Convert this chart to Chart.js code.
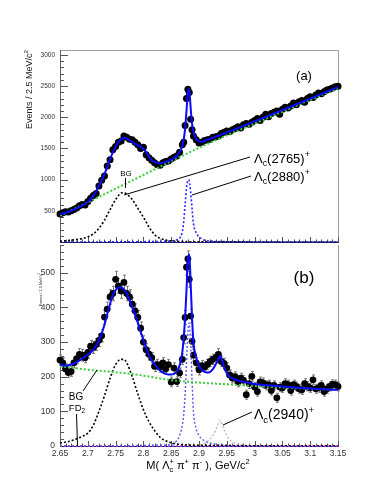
<!DOCTYPE html>
<html>
<head>
<meta charset="utf-8">
<script src="https://cdn.jsdelivr.net/npm/chart.js@4.4.1/dist/chart.umd.min.js"></script>
<style>
html, body { margin: 0; padding: 0; background: #fff; }
#wrap { position: relative; width: 383px; height: 495px; }
#chartA { position: absolute; left: 0; top: 0; }
#chartB { position: absolute; left: 0; top: 240px; }
</style>
</head>
<body>
<div id="wrap">
<canvas id="chartA" width="383" height="246"></canvas>
<canvas id="chartB" width="383" height="255"></canvas>
</div>
<script>
// axis ticks
var xTicks = [2.65, 2.7, 2.75, 2.8, 2.85, 2.9, 2.95, 3, 3.05, 3.1, 3.15];
var yTicksA = [500, 1000, 1500, 2000, 2500, 3000];
var yTicksB = [0, 100, 200, 300, 400, 500];

// bin centres (GeV/c2), same for both panels
var mass = [2.65, 2.655, 2.66, 2.665, 2.67, 2.675, 2.68, 2.685, 2.69, 2.695,
    2.7, 2.705, 2.71, 2.715, 2.72, 2.725, 2.73, 2.735, 2.74, 2.745,
    2.75, 2.755, 2.76, 2.765, 2.77, 2.775, 2.78, 2.785, 2.79, 2.795,
    2.8, 2.805, 2.81, 2.815, 2.82, 2.825, 2.83, 2.835, 2.84, 2.845,
    2.85, 2.855, 2.86, 2.865, 2.87,
    2.8725, 2.875, 2.8775, 2.88, 2.8825, 2.885, 2.8875,
    2.89, 2.895, 2.9, 2.905, 2.91, 2.915, 2.92, 2.925, 2.93, 2.935, 2.94, 2.945,
    2.95, 2.955, 2.96, 2.965, 2.97, 2.975, 2.98, 2.985, 2.99, 2.995,
    3, 3.005, 3.01, 3.015, 3.02, 3.025, 3.03, 3.035, 3.04, 3.045,
    3.05, 3.055, 3.06, 3.065, 3.07, 3.075, 3.08, 3.085, 3.09, 3.095,
    3.1, 3.105, 3.11, 3.115, 3.12, 3.125, 3.13, 3.135, 3.14, 3.145, 3.15];

// panel (a) events
var eventsA = [450, 470, 485, 480, 500, 520, 545, 580, 600, 595,
    650, 700, 745, 780, 900, 990, 1060, 1220, 1320, 1480,
    1530, 1600, 1620, 1700, 1680, 1650, 1640, 1600, 1560, 1500,
    1520, 1400, 1350, 1310, 1270, 1240, 1230, 1270, 1290, 1300,
    1330, 1360, 1380, 1440, 1560,
    1600, 1870, 2300, 2450, 2400, 1970, 1800,
    1700, 1640, 1590, 1600, 1630, 1640, 1650, 1680, 1690, 1700, 1740, 1760,
    1780, 1770, 1800, 1820, 1850, 1830, 1880, 1900, 1890, 1920,
    1950, 1980, 1950, 2000, 2050, 2010, 2060, 2080, 2100, 2050,
    2130, 2160, 2150, 2180, 2230, 2200, 2250, 2270, 2240, 2300,
    2330, 2320, 2360, 2390, 2380, 2410, 2440, 2450, 2470, 2490, 2500];

// panel (b) events and errors
var eventsB = [248, 240, 222, 212, 215, 240, 252, 264, 262, 255,
    270, 288, 284, 293, 305, 318, 372, 395, 430, 440,
    481, 462, 447, 472, 440, 430, 409, 390, 371, 340,
    300, 278, 265, 255, 230, 235, 228, 240, 222, 235,
    185, 225, 186, 211, 250,
    313, 371, 516, 540, 481, 375, 302,
    262, 240, 220, 232, 228, 235, 244, 250, 255, 264, 244, 238,
    225, 205, 196, 200, 185, 196, 190, 148, 180, 201,
    170, 157, 185, 182, 175, 177, 160, 175, 139, 170,
    168, 180, 177, 160, 177, 172, 165, 162, 180, 172,
    168, 191, 165, 168, 175, 157, 165, 172, 178, 177, 172];
var errB = [15, 15, 15, 14, 14, 15, 15, 17, 17, 15,
    17, 17, 17, 17, 18, 18, 20, 20, 21, 21,
    23, 21, 21, 21, 21, 21, 20, 20, 20, 18,
    18, 17, 17, 15, 15, 15, 15, 15, 15, 15,
    14, 15, 14, 14, 15,
    18, 20, 23, 23, 23, 20, 18,
    17, 15, 15, 15, 15, 15, 15, 15, 15, 17, 15, 15,
    15, 14, 14, 14, 14, 14, 14, 13, 14, 14,
    13, 13, 14, 14, 13, 13, 13, 13, 13, 13,
    13, 14, 13, 13, 13, 13, 13, 13, 14, 13,
    13, 14, 13, 13, 13, 13, 13, 13, 13, 13, 13];

// panel (a) fit curves
var fitAMass = [2.65, 2.66, 2.67, 2.68, 2.69, 2.7, 2.71, 2.72, 2.73, 2.74, 2.75, 2.76, 2.767, 2.775, 2.785, 2.795, 2.8, 2.805, 2.81, 2.815, 2.82, 2.83, 2.84, 2.85, 2.86, 2.865, 2.87, 2.8725, 2.875, 2.8775, 2.88, 2.8815, 2.883, 2.885, 2.8875, 2.89, 2.895, 2.9, 2.905, 2.91, 2.95, 3, 3.05, 3.1, 3.15];
var fitAVal = [445, 470, 500, 540, 585, 640, 740, 900, 1090, 1330, 1530, 1650, 1670, 1630, 1575, 1530, 1495, 1440, 1370, 1310, 1282, 1265, 1282, 1320, 1380, 1440, 1540, 1640, 1820, 2100, 2400, 2450, 2400, 2150, 1900, 1760, 1650, 1615, 1610, 1625, 1755, 1935, 2115, 2300, 2485];
var bgAMass = [2.65, 2.7, 2.75, 2.8, 2.85, 2.9, 2.95, 3, 3.05, 3.1, 3.15];
var bgAVal = [420, 635, 855, 1075, 1295, 1510, 1710, 1900, 2090, 2280, 2465];
var lc2765AMass = [2.65, 2.66, 2.67, 2.68, 2.69, 2.7, 2.71, 2.72, 2.73, 2.74, 2.75, 2.76, 2.765, 2.77, 2.78, 2.79, 2.8, 2.81, 2.82, 2.83, 2.84, 2.85, 2.86, 2.9, 3, 3.15];
var lc2765AVal = [15, 20, 28, 40, 55, 80, 130, 220, 350, 520, 680, 785, 790, 770, 680, 540, 400, 240, 120, 60, 30, 18, 10, 4, 1, 0];
var lc2880AMass = [2.65, 2.84, 2.85, 2.86, 2.865, 2.869, 2.872, 2.875, 2.878, 2.8815, 2.885, 2.888, 2.89, 2.896, 2.905, 2.92, 2.95, 3.15];
var lc2880AVal = [0, 10, 18, 35, 60, 130, 280, 600, 900, 1000, 800, 480, 300, 130, 50, 15, 5, 0];

// panel (b) fit curves
var fitBMass = [2.65, 2.655, 2.66, 2.665, 2.67, 2.675, 2.68, 2.685, 2.69, 2.695, 2.7, 2.705, 2.71, 2.715, 2.72, 2.725, 2.73, 2.735, 2.74, 2.745, 2.75, 2.755, 2.76, 2.765, 2.77, 2.775, 2.78, 2.785, 2.79, 2.795, 2.8, 2.805, 2.81, 2.815, 2.82, 2.825, 2.83, 2.835, 2.84, 2.845, 2.85, 2.855, 2.86, 2.865, 2.87, 2.875, 2.8775, 2.88, 2.8825, 2.885, 2.8875, 2.89, 2.895, 2.9, 2.905, 2.91, 2.915, 2.92, 2.925, 2.93, 2.935, 2.938, 2.94, 2.945, 2.95, 2.955, 2.96, 2.97, 2.98, 2.99, 3, 3.05, 3.1, 3.15];
var fitBVal = [235, 233, 232, 233, 235, 238, 242, 247, 252, 258, 264, 270, 278, 290, 305, 325, 350, 380, 410, 435, 450, 457, 458, 452, 440, 420, 400, 378, 355, 330, 305, 282, 262, 247, 236, 226, 218, 212, 208, 206, 206, 208, 215, 232, 270, 370, 450, 535, 553, 470, 370, 300, 255, 232, 220, 214, 212, 214, 222, 235, 252, 260, 255, 228, 210, 200, 195, 189, 185, 182, 179, 172, 166, 162];
var bgBMass = [2.65, 2.7, 2.75, 2.8, 2.85, 2.9, 2.95, 3, 3.05, 3.1, 3.15];
var bgBVal = [230, 220, 213, 203, 190, 183, 178, 173, 169, 165, 162];
var lc2765BMass = [2.65, 2.67, 2.69, 2.7, 2.71, 2.72, 2.73, 2.74, 2.75, 2.76, 2.765, 2.77, 2.78, 2.79, 2.8, 2.81, 2.82, 2.83, 2.84, 2.86, 2.9, 3.15];
var lc2765BVal = [8, 15, 28, 37, 60, 100, 145, 195, 235, 250, 250, 240, 200, 150, 105, 70, 45, 25, 15, 6, 2, 0];
var lc2880BMass = [2.65, 2.84, 2.85, 2.86, 2.865, 2.87, 2.873, 2.876, 2.879, 2.882, 2.885, 2.888, 2.89, 2.895, 2.9, 2.91, 2.93, 2.95, 3.15];
var lc2880BVal = [0, 3, 5, 15, 30, 60, 100, 180, 300, 355, 290, 170, 100, 50, 30, 15, 5, 2, 0];
var lc2940BMass = [2.88, 2.9, 2.91, 2.92, 2.93, 2.935, 2.938, 2.941, 2.947, 2.955, 2.965, 2.98, 3];
var lc2940BVal = [0, 3, 8, 20, 45, 65, 75, 65, 40, 18, 8, 3, 0];
var fd2BMass = [2.65, 3.15];
var fd2BVal = [0, 0];

function pairs(xs, ys) {
    return xs.map(function(x, i) { return { x: x, y: ys[i] }; });
}

var FONT = '"Liberation Sans", Arial, Helvetica, sans-serif';

// text with sub/superscripts; parts: [text, 'n'|'sub'|'sup'] or [sub, 'ss', sup]
function drawRich(ctx, parts, x, y, size, align) {
    var small = size * 0.68;
    var widths = [], total = 0;
    parts.forEach(function(p) {
        var w;
        if (p[1] === 'n') {
            ctx.font = size + 'px ' + FONT;
            w = ctx.measureText(p[0]).width;
        } else if (p[1] === 'ss') {
            ctx.font = small + 'px ' + FONT;
            w = Math.max(ctx.measureText(p[0]).width, ctx.measureText(p[2]).width);
        } else {
            ctx.font = small + 'px ' + FONT;
            w = ctx.measureText(p[0]).width;
        }
        widths.push(w);
        total += w;
    });
    var cx = x;
    if (align === 'center') cx = x - total / 2;
    if (align === 'right') cx = x - total;
    ctx.textAlign = 'left';
    ctx.textBaseline = 'alphabetic';
    parts.forEach(function(p, i) {
        if (p[1] === 'n') {
            ctx.font = size + 'px ' + FONT;
            ctx.fillText(p[0], cx, y);
        } else {
            ctx.font = small + 'px ' + FONT;
            if (p[1] === 'sub' || p[1] === 'ss') ctx.fillText(p[0], cx, y + size * 0.25);
            if (p[1] === 'sup') ctx.fillText(p[0], cx, y - size * 0.45);
            if (p[1] === 'ss') ctx.fillText(p[2], cx, y - size * 0.45);
        }
        cx += widths[i];
    });
}

function line(ctx, x1, y1, x2, y2) {
    ctx.beginPath();
    ctx.moveTo(x1, y1);
    ctx.lineTo(x2, y2);
    ctx.stroke();
}

// ROOT-like frame with inward ticks
function rootAxes(yMajor, yMinor, drawTop) {
    return {
        id: 'rootAxes',
        beforeDatasetsDraw: function(chart) {
            var ctx = chart.ctx, a = chart.chartArea;
            var xs = chart.scales.x, ys = chart.scales.y;
            ctx.save();
            ctx.lineWidth = 1;
            ctx.strokeStyle = '#a0a0a0';
            ctx.beginPath();
            if (drawTop) {
                ctx.moveTo(a.left, a.top + 0.5);
                ctx.lineTo(a.right + 0.5, a.top + 0.5);
            } else {
                ctx.moveTo(a.right + 0.5, a.top);
            }
            ctx.lineTo(a.right + 0.5, a.bottom);
            ctx.stroke();
            ctx.strokeStyle = '#666';
            line(ctx, a.left + 0.5, a.top, a.left + 0.5, a.bottom);
            ctx.strokeStyle = '#555';
            for (var v = 0; v <= ys.max; v += yMinor) {
                var py = Math.round(ys.getPixelForValue(v)) + 0.5;
                var len = (v % yMajor === 0) ? 8 : 4;
                line(ctx, a.left, py, a.left + len, py);
            }
            for (var k = 0; k <= 50; k++) {
                var px = Math.round(xs.getPixelForValue(2.65 + k * 0.01)) + 0.5;
                var tl = (k % 5 === 0) ? 5 : 2.5;
                line(ctx, px, a.bottom, px, a.bottom - tl);
            }
            ctx.strokeStyle = '#1c1c78';
            line(ctx, a.left, a.bottom + 0.5, a.right + 1, a.bottom + 0.5);
            ctx.restore();
        }
    };
}

function curve(label, xs, ys, color, width, dash, order) {
    return {
        label: label,
        data: pairs(xs, ys),
        showLine: true,
        pointRadius: 0,
        borderColor: color,
        borderWidth: width,
        borderDash: dash,
        cubicInterpolationMode: 'monotone',
        order: order
    };
}

function baseOptions(padTop, yMax, yTicks, yFont, xHeight, xLabels) {
    return {
        responsive: false,
        animation: false,
        layout: { padding: { top: padTop, right: 45, bottom: xLabels ? 0 : 1, left: 0 } },
        plugins: { legend: { display: false }, tooltip: { enabled: false } },
        scales: {
            x: {
                type: 'linear', min: 2.65, max: 3.15,
                grid: { display: false, drawTicks: false },
                border: { display: false },
                ticks: {
                    display: xLabels, padding: 3, color: '#333',
                    font: { size: 8.5, family: FONT },
                    maxRotation: 0, autoSkip: false,
                    callback: function(v) { return String(v); }
                },
                afterBuildTicks: function(s) { s.ticks = xTicks.map(function(v) { return { value: v }; }); },
                afterFit: function(s) { s.height = xHeight; s.paddingLeft = 0; s.paddingRight = 0; }
            },
            y: {
                min: 0, max: yMax,
                grid: { display: false, drawTicks: false },
                border: { display: false },
                ticks: {
                    padding: 5, color: '#333', font: { size: yFont, family: FONT },
                    callback: function(v) { return String(v); }
                },
                afterBuildTicks: function(s) { s.ticks = yTicks.map(function(v) { return { value: v }; }); },
                afterFit: function(s) { s.width = 60; s.paddingTop = 0; s.paddingBottom = 0; }
            }
        }
    };
}

// panel (a)
var labelsA = {
    id: 'labelsA',
    afterDraw: function(chart) {
        var ctx = chart.ctx;
        ctx.save();
        ctx.fillStyle = '#000';
        ctx.strokeStyle = '#000';
        ctx.lineWidth = 1;
        drawRich(ctx, [['(a)', 'n']], 304, 79.5, 13, 'center');
        drawRich(ctx, [['BG', 'n']], 126, 176, 8, 'center');
        line(ctx, 125.5, 178, 125.5, 188);
        line(ctx, 124, 195, 250, 157);
        drawRich(ctx, [['Λ', 'n'], ['c', 'sub'], ['(2765)', 'n'], ['+', 'sup']], 254, 162.5, 13, 'left');
        line(ctx, 192, 195, 251, 176);
        drawRich(ctx, [['Λ', 'n'], ['c', 'sub'], ['(2880)', 'n'], ['+', 'sup']], 254, 180.5, 13, 'left');
        ctx.fillStyle = '#222';
        ctx.translate(32, 50);
        ctx.rotate(-Math.PI / 2);
        drawRich(ctx, [['Events / 2.5 MeV/c', 'n'], ['2', 'sup']], 0, 0, 9, 'right');
        ctx.restore();
    }
};

var chartA = new Chart(document.getElementById('chartA').getContext('2d'), {
    type: 'scatter',
    data: {
        datasets: [
            curve('fit', fitAMass, fitAVal, '#0a0aff', 2, [], 1),
            curve('BG', bgAMass, bgAVal, '#3ccc3c', 2, [2, 2], 2),
            curve('Lc2765', lc2765AMass, lc2765AVal, '#000', 1.6, [2, 2], 3),
            curve('Lc2880', lc2880AMass, lc2880AVal, '#2b2bff', 1.6, [2, 2], 4),
            {
                label: 'data',
                data: pairs(mass, eventsA),
                pointRadius: 3.5,
                pointBackgroundColor: '#000',
                pointBorderWidth: 0,
                clip: false,
                order: 10
            }
        ]
    },
    options: baseOptions(50, 3080, yTicksA, 6.5, 0, false),
    plugins: [rootAxes(500, 100, true), labelsA]
});

// panel (b)
var errorBarsB = {
    id: 'errorBarsB',
    beforeDatasetsDraw: function(chart) {
        var ctx = chart.ctx, xs = chart.scales.x, ys = chart.scales.y;
        ctx.save();
        ctx.strokeStyle = '#7a7a7a';
        ctx.lineWidth = 1;
        mass.forEach(function(m, i) {
            var px = Math.round(xs.getPixelForValue(m)) + 0.5;
            var y1 = ys.getPixelForValue(eventsB[i] - errB[i]);
            var y2 = ys.getPixelForValue(eventsB[i] + errB[i]);
            line(ctx, px, y1, px, y2);
            line(ctx, px - 1.5, y1, px + 1.5, y1);
            line(ctx, px - 1.5, y2, px + 1.5, y2);
        });
        ctx.restore();
    }
};

var labelsB = {
    id: 'labelsB',
    afterDraw: function(chart) {
        var ctx = chart.ctx;
        ctx.save();
        ctx.fillStyle = '#000';
        ctx.strokeStyle = '#000';
        ctx.lineWidth = 1;
        drawRich(ctx, [['(b)', 'n']], 304, 43, 17, 'center');
        drawRich(ctx, [['BG', 'n']], 76, 159.5, 10, 'center');
        line(ctx, 83, 151, 97, 130);
        drawRich(ctx, [['FD', 'n'], ['2', 'sub']], 77, 171, 9.5, 'center');
        line(ctx, 76.5, 174, 77.5, 206);
        line(ctx, 223, 185, 252, 172);
        drawRich(ctx, [['Λ', 'n'], ['c', 'sub'], ['(2940)', 'n'], ['+', 'sup']], 254, 179, 14, 'left');
        drawRich(ctx, [['M( Λ', 'n'], ['c', 'ss', '+'], [' π', 'n'], ['+', 'sup'], [' π', 'n'], ['-', 'sup'], [' ), GeV/c', 'n'], ['2', 'sup']], 198, 229, 11, 'center');
        ctx.fillStyle = '#222';
        ctx.translate(42, 33);
        ctx.rotate(-Math.PI / 2);
        drawRich(ctx, [['Events / 2.5 MeV/c', 'n'], ['2', 'sup']], 0, 0, 3.8, 'right');
        ctx.restore();
    }
};

var chartB = new Chart(document.getElementById('chartB').getContext('2d'), {
    type: 'scatter',
    data: {
        datasets: [
            curve('fit', fitBMass, fitBVal, '#0a0aff', 2, [], 1),
            curve('BG', bgBMass, bgBVal, '#3ccc3c', 2, [2, 2], 2),
            curve('Lc2765', lc2765BMass, lc2765BVal, '#000', 1.6, [2, 2], 3),
            curve('Lc2880', lc2880BMass, lc2880BVal, '#5555ff', 1.4, [2, 2], 4),
            curve('Lc2940', lc2940BMass, lc2940BVal, '#c4bcb4', 1.4, [2, 2], 5),
            Object.assign(curve('FD2', fd2BMass, fd2BVal, '#cc33cc', 1.6, [2, 2], 6), { clip: false }),
            {
                label: 'data',
                data: pairs(mass, eventsB),
                pointRadius: 3.4,
                pointBackgroundColor: '#000',
                pointBorderWidth: 0,
                clip: false,
                order: 10
            }
        ]
    },
    options: baseOptions(5, 580, yTicksB, 8.5, 49, true),
    plugins: [rootAxes(100, 20, false), errorBarsB, labelsB]
});
</script>
</body>
</html>
